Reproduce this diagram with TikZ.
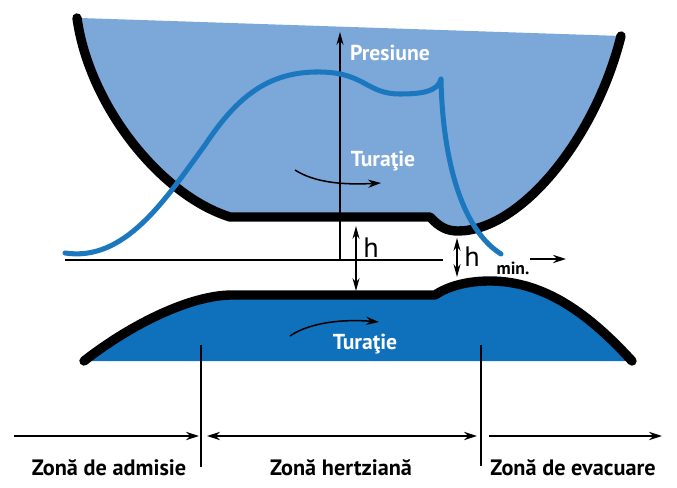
\documentclass[tikz,border=0pt]{standalone}
\usepackage{fontspec}
\setmainfont{PT Sans}
\usetikzlibrary{arrows.meta}
\definecolor{upperblue}{HTML}{7BA7D9}
\definecolor{lowerblue}{HTML}{0F70BC}
\definecolor{curveblue}{HTML}{1C78BE}
\begin{document}
\begin{tikzpicture}[
    x=0.03cm,y=-0.03cm,
    wall/.style={draw=black,line width=8pt,line cap=round,line join=round},
    axis/.style={line width=1.2pt},
    flow/.style={line width=1.3pt,-{Stealth[length=11pt,width=7pt]}},
    gap/.style={line width=1.3pt,{Stealth[length=11pt,width=6pt]}-{Stealth[length=11pt,width=6pt]}},
    zone/.style={line width=1.3pt,-{Stealth[length=11pt,width=7pt]}},
    lbl/.style={font=\bfseries\fontsize{19}{21}\selectfont,inner sep=0pt},
    white lbl/.style={lbl,text=white,font=\bfseries\fontsize{18.5}{20}\selectfont},
    hlbl/.style={font=\fontsize{24}{26}\selectfont,inner sep=0pt}
]
\useasboundingbox (0,0) rectangle (677,488);

% upper part
\fill[upperblue] (80,18) .. controls (92,105) and (160,190) .. (230,217)
    -- (430,217) .. controls (440,228) and (448,231) .. (458,231)
    .. controls (520,231) and (595,140) .. (621,36) -- cycle;
\draw[wall] (77,18) .. controls (89,105) and (160,195) .. (230,217)
    -- (430,217) .. controls (440,228) and (448,231) .. (458,231)
    .. controls (520,231) and (595,140) .. (621,36);

% lower part
\fill[lowerblue] (84,361) .. controls (130,325) and (190,295) .. (232,295)
    -- (435,295) .. controls (450,285) and (470,281) .. (490,281)
    .. controls (545,281) and (590,315) .. (632,361) -- cycle;
\draw[wall] (84,361) .. controls (130,325) and (190,295) .. (232,295)
    -- (435,295) .. controls (450,285) and (470,281) .. (490,281)
    .. controls (545,281) and (590,315) .. (632,361);

% axes
\coordinate (origin) at (340,260);
\coordinate (ptop) at (340,32);
\coordinate (hleft) at (65,260);
\coordinate (hright) at (443,260);
\draw[axis,-{Stealth[length=11pt,width=6pt]}] (origin) -- (ptop);
\draw[axis] (hleft) -- (hright);

% pressure curve
\draw[curveblue,line width=4.3pt,line cap=round,line join=round] (65,253)
    .. controls (125,262) and (165,200) .. (205,145)
    .. controls (235,100) and (265,73) .. (315,72)
    .. controls (365,71) and (365,94) .. (400,94)
    .. controls (420,94) and (438,92) .. (441,79)
    .. controls (442,140) and (455,225) .. (501,254);

% gaps
\coordinate (ha) at (356,226);
\coordinate (hb) at (356,291);
\coordinate (hc) at (457,238);
\coordinate (hd) at (457,277);
\draw[gap] (ha) -- (hb);
\draw[gap] (hc) -- (hd);
\node[hlbl] (h1) at (371,248) {h};
\node[hlbl] (h2) at (472,257) {h};

% speed arrows
\coordinate (s1) at (295,170);
\coordinate (s2) at (381,183);
\coordinate (s3) at (290,336);
\coordinate (s4) at (379,322);
\draw[flow] (s1) .. controls (315,183) and (345,185) .. (s2);
\draw[flow] (s3) .. controls (310,322) and (345,319) .. (s4);

\coordinate (m1) at (530,259);
\coordinate (m2) at (566,259);
\draw[flow] (m1) -- (m2);
\node[lbl,font=\bfseries\fontsize{15}{17}\selectfont] (minlbl) at (513,268) {min.};

\node[white lbl] (pres) at (390,53) {Presiune};
\node[white lbl] (turup) at (383,161) {Turaţie};
\node[white lbl] (turlow) at (365,344) {Turaţie};

% zones
\coordinate (va) at (201,345);
\coordinate (vb) at (201,467);
\coordinate (vc) at (481,345);
\coordinate (vd) at (481,466);
\draw[axis] (va) -- (vb);
\draw[axis] (vc) -- (vd);

\coordinate (z1) at (14,436);
\coordinate (z2) at (199,436);
\coordinate (z3) at (207,436);
\coordinate (z4) at (477,436);
\coordinate (z5) at (489,436);
\coordinate (z6) at (662,436);
\draw[zone] (z1) -- (z2);
\draw[zone,{Stealth[length=11pt,width=7pt]}-{Stealth[length=11pt,width=7pt]}] (z3) -- (z4);
\draw[zone] (z5) -- (z6);

\node[lbl] (admisie) at (109,468) {Zonă de admisie};
\node[lbl] (hertz) at (341,468) {Zonă hertziană};
\node[lbl] (evac) at (573,468) {Zonă de evacuare};
\end{tikzpicture}
\end{document}
